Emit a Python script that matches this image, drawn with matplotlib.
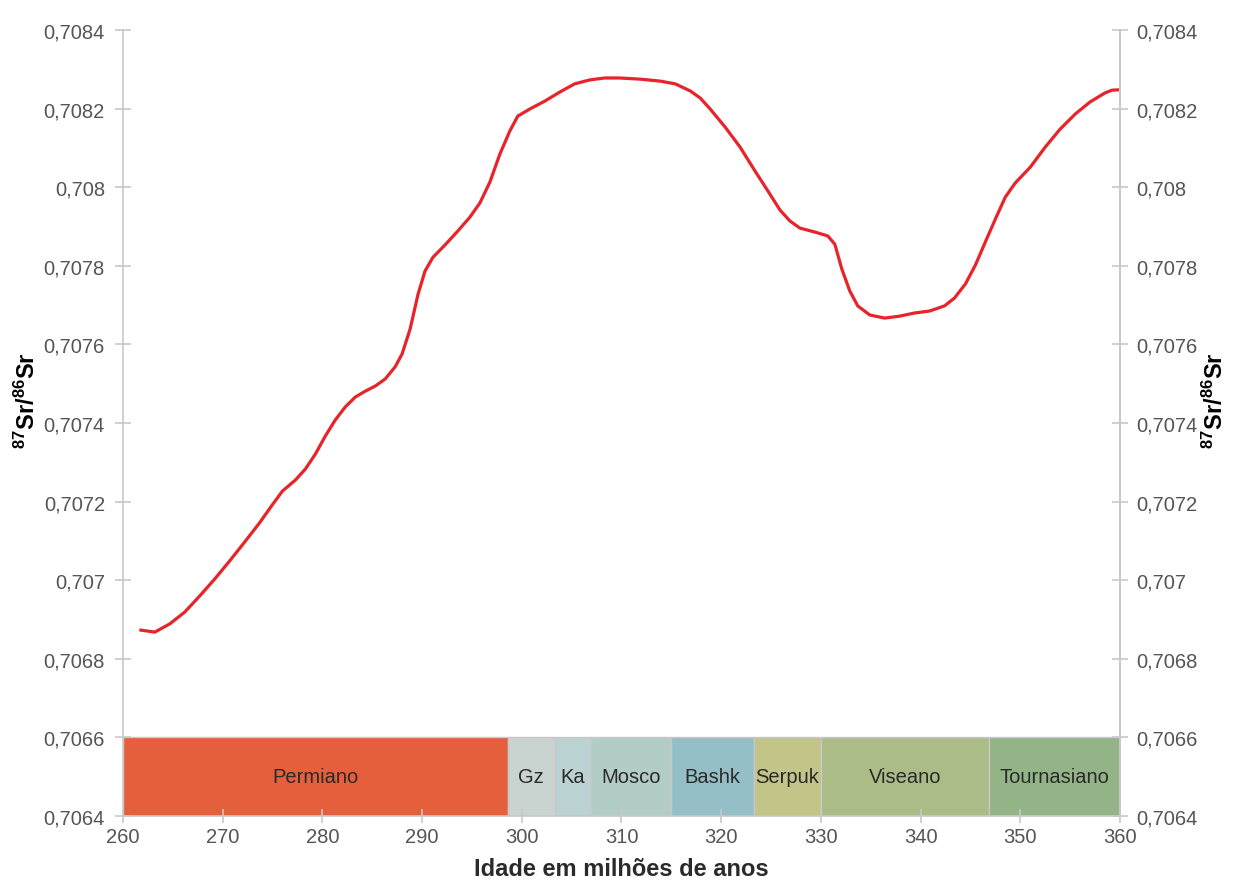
import matplotlib.pyplot as plt
from matplotlib.ticker import FuncFormatter, MultipleLocator

plt.rcParams['font.family'] = ['Liberation Sans', 'DejaVu Sans']
plt.rcParams['mathtext.fontset'] = 'custom'
plt.rcParams['mathtext.rm'] = 'Liberation Sans'
plt.rcParams['mathtext.bf'] = 'Liberation Sans:bold'

# Sr isotope curve
age = [261.8, 263.2, 264.7, 266.2, 267.7, 269.2, 270.7, 272.2, 273.7, 274.9,
       276.0, 277.3, 278.3, 279.3, 280.3, 281.3, 282.3, 283.3, 284.3, 285.3,
       286.3, 287.3, 288.0, 288.8, 289.6, 290.3, 291.1, 292.3, 293.6, 294.8,
       295.8, 296.8, 297.8, 298.8, 299.6, 300.8, 302.3, 303.8, 305.3, 306.8,
       308.3, 309.8, 311.9, 313.9, 315.4, 316.9, 317.9, 318.9, 320.4, 321.9,
       323.4, 324.7, 325.9, 326.9, 327.9, 329.4, 330.7, 331.4, 332.1, 332.9,
       333.7, 334.9, 336.4, 337.9, 339.4, 340.9, 342.4, 343.4, 344.5, 345.5,
       346.5, 347.5, 348.5, 349.5, 351.0, 352.5, 354.0, 355.5, 357.0, 358.5,
       359.2, 360.0]
sr = [0.706873, 0.706868, 0.706889, 0.706919, 0.706960, 0.707003, 0.707049,
      0.707097, 0.707146, 0.707189, 0.707227, 0.707255, 0.707283, 0.707321,
      0.707367, 0.707408, 0.707441, 0.707466, 0.707481, 0.707494, 0.707512,
      0.707543, 0.707576, 0.707639, 0.707728, 0.707787, 0.707822, 0.707853,
      0.707889, 0.707924, 0.707960, 0.708013, 0.708084, 0.708143, 0.708181,
      0.708199, 0.708219, 0.708242, 0.708263, 0.708273, 0.708278, 0.708278,
      0.708275, 0.708270, 0.708263, 0.708245, 0.708227, 0.708199, 0.708153,
      0.708102, 0.708041, 0.707990, 0.707942, 0.707914, 0.707896, 0.707886,
      0.707876, 0.707855, 0.707792, 0.707736, 0.707698, 0.707675, 0.707667,
      0.707672, 0.707680, 0.707685, 0.707698, 0.707718, 0.707754, 0.707802,
      0.707861, 0.707919, 0.707975, 0.708011, 0.708051, 0.708102, 0.708148,
      0.708186, 0.708217, 0.708240, 0.708247, 0.708248]

# stratigraphic units (boundaries in Ma)
units = ['Permiano', 'Gz', 'Ka', 'Mosco', 'Bashk', 'Serpuk', 'Viseano', 'Tournasiano']
unit_start = [260.0, 298.6, 303.3, 306.9, 315.0, 323.3, 330.0, 346.9]
unit_end = [298.6, 303.3, 306.9, 315.0, 323.3, 330.0, 346.9, 360.0]
unit_colors = ['#e65f3c', '#c9d3d0', '#bad2d1', '#b2cdc8', '#94bfc7',
               '#c3c487', '#abbc87', '#93b486']

grey = '#c8c8c8'
fig = plt.figure(figsize=(12.37, 8.87), dpi=100)
ax = fig.add_axes([0.0994, 0.0789, 0.8060, 0.8861])

widths = [e - s for s, e in zip(unit_start, unit_end)]
ax.bar(unit_start, [0.0002] * len(units), width=widths, bottom=0.7064,
       align='edge', color=unit_colors, edgecolor=grey, linewidth=1)
for name, s, e in zip(units, unit_start, unit_end):
    ax.text((s + e) / 2, 0.7065, name, ha='center', va='center',
            fontsize=14.5, color='#2a2a2a')

ax.plot(age, sr, color='#e8232a', linewidth=2.3)

ax.set_xlim(260, 360)
ax.set_ylim(0.7064, 0.7084)
ax.xaxis.set_major_locator(MultipleLocator(10))
ax.yaxis.set_major_locator(MultipleLocator(0.0002))

fmt = FuncFormatter(lambda v, p: f"{v:.4f}".rstrip('0').replace('.', ','))
ax.yaxis.set_major_formatter(fmt)

ax.spines['top'].set_visible(False)
for side in ['left', 'right', 'bottom']:
    ax.spines[side].set_color(grey)
    ax.spines[side].set_linewidth(1.2)

ax.tick_params(axis='y', direction='inout', length=12, width=1.2, color=grey,
               labelsize=14.5, labelcolor='#555555', pad=7)
ax.tick_params(axis='x', direction='inout', length=10, width=1.2, color=grey,
               labelsize=14.5, labelcolor='#555555', pad=3)

ax2 = ax.twinx()
ax2.set_ylim(ax.get_ylim())
ax2.yaxis.set_major_locator(MultipleLocator(0.0002))
ax2.yaxis.set_major_formatter(fmt)
for side in ['top', 'left', 'bottom']:
    ax2.spines[side].set_visible(False)
ax2.spines['right'].set_color(grey)
ax2.spines['right'].set_linewidth(1.2)
ax2.tick_params(axis='y', direction='inout', length=12, width=1.2, color=grey,
                labelsize=14.5, labelcolor='#555555', pad=6)

ylab = r'$\mathbf{^{87}Sr/^{86}Sr}$'
ax.set_ylabel(ylab, fontsize=17)
ax2.set_ylabel(ylab, fontsize=17)
ax.yaxis.set_label_coords(-0.083, 0.53)
ax2.yaxis.set_label_coords(1.083, 0.53)
ax.set_xlabel('Idade em milhões de anos', fontsize=17, fontweight='bold',
              color='#2a2a2a', labelpad=8)

fig.savefig('out.png', dpi=100, facecolor='white')
